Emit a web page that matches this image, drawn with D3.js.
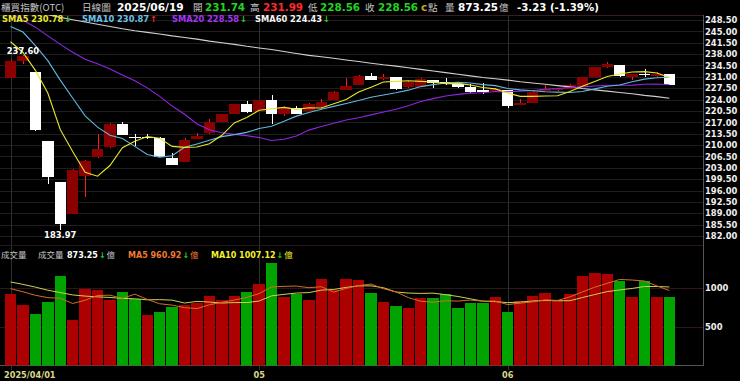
<!DOCTYPE html>
<html>
<head>
<meta charset="utf-8">
<script src="https://cdn.jsdelivr.net/npm/d3@7/dist/d3.min.js"></script>
<style>
  html, body { margin: 0; padding: 0; background: #000; overflow: hidden; }
  svg { display: block; }
  .num { font-family: "DejaVu Sans", Verdana, sans-serif; font-weight: bold; }
  .cjk { font-family: "Noto Sans CJK TC", "Noto Sans CJK SC", sans-serif; }
</style>
</head>
<body>
<div id="stage"></div>
<script>
// ---------- data (OTC index, daily) ----------
var dates = [
  "2025/04/01","2025/04/02","2025/04/07","2025/04/08","2025/04/09","2025/04/10","2025/04/11",
  "2025/04/14","2025/04/15","2025/04/16","2025/04/17","2025/04/18","2025/04/21","2025/04/22",
  "2025/04/23","2025/04/24","2025/04/25","2025/04/28","2025/04/29","2025/04/30",
  "2025/05/02","2025/05/05","2025/05/06","2025/05/07","2025/05/08","2025/05/09","2025/05/12",
  "2025/05/13","2025/05/14","2025/05/15","2025/05/16","2025/05/19","2025/05/20","2025/05/21",
  "2025/05/22","2025/05/23","2025/05/26","2025/05/27","2025/05/28","2025/05/29",
  "2025/06/02","2025/06/03","2025/06/04","2025/06/05","2025/06/06","2025/06/09","2025/06/10",
  "2025/06/11","2025/06/12","2025/06/13","2025/06/16","2025/06/17","2025/06/18","2025/06/19"
];
var opens = [230.7,236.0,232.4,211.2,198.5,188.8,200.6,206.2,209.3,216.4,212.6,212.5,212.3,206.0,
  204.9,211.9,213.6,217.2,219.6,222.5,220.5,223.9,219.5,221.5,220.5,221.6,223.9,226.9,228.5,231.4,
  230.2,231.0,228.0,228.0,230.0,229.3,228.9,227.9,226.9,226.6,226.9,222.3,223.0,226.7,226.8,227.4,
  228.0,231.0,233.9,234.6,231.0,231.75,231.3,231.74];
var highs = [236.1,237.6,232.5,211.3,198.7,202.6,205.3,213.4,216.7,217.0,213.3,213.3,212.4,207.6,
  212.1,213.8,218.1,219.7,222.7,223.6,224.0,225.4,221.9,222.1,222.8,224.1,226.7,230.7,231.5,232.1,
  231.8,231.1,229.8,230.5,230.1,230.5,229.0,228.7,229.0,227.6,227.0,224.1,226.5,228.5,227.6,228.8,
  231.0,234.0,235.6,234.7,231.8,233.5,232.4,231.99];
var lows = [230.5,234.9,214.2,198.0,183.97,188.7,193.9,206.1,209.2,213.0,209.7,211.8,206.3,203.9,
  204.8,211.8,213.5,217.1,219.5,220.0,220.4,216.4,219.0,219.5,220.4,220.8,223.8,226.8,228.4,229.9,
  230.1,227.1,227.7,227.9,227.7,228.5,227.7,226.1,225.6,226.4,221.3,222.2,222.9,226.6,226.5,227.3,
  227.9,230.9,233.8,231.1,230.0,230.9,231.0,228.56];
var closes = [235.9,237.4,214.5,200.3,185.7,202.3,205.2,208.7,216.5,213.1,212.3,212.5,206.4,204.0,
  211.6,212.8,217.2,219.6,222.6,220.1,223.9,219.7,221.8,219.6,222.6,223.3,226.2,228.2,231.4,230.0,
  231.0,227.2,229.3,230.3,229.0,228.8,227.8,226.4,226.3,227.3,222.0,222.8,226.4,227.3,227.5,228.4,
  230.9,233.9,234.9,231.2,231.75,231.7,231.79,228.56];
// volume, 億
var volumes = [913,776,656,818,1147,579,981,964,836,938,857,644,682,750,776,797,887,840,895,942,
  1049,1310,878,913,836,1113,968,1109,1096,933,814,767,741,865,869,913,741,805,797,874,
  690,831,887,926,835,922,1145,1192,1172,1085,884,1082,880,873.25];

// moving averages as drawn on the chart
var sma5 = [241.8,238.5,233.0,226.0,214.8,208.0,201.6,200.4,203.7,209.2,211.2,212.6,212.1,209.6,
  209.3,209.4,210.4,213.0,216.8,218.5,220.7,221.2,221.6,221.0,221.5,221.4,222.7,224.0,226.3,227.8,
  229.4,229.6,229.8,229.6,229.4,228.9,229.0,228.5,227.7,227.3,226.0,225.0,225.0,225.1,225.2,226.5,
  228.1,229.6,231.1,231.9,232.5,232.6,232.2,230.78];
var sma10 = [246.5,244.8,240.6,236.0,230.0,224.5,219.0,215.5,213.0,212.0,209.6,207.1,206.3,206.7,
  209.3,210.3,211.5,212.6,213.2,213.9,215.1,215.8,217.3,218.9,220.0,221.0,221.9,222.8,223.7,224.7,
  225.4,226.1,226.9,228.0,228.6,229.1,229.3,229.1,228.6,228.3,227.4,227.0,226.7,226.4,226.3,226.2,
  226.5,227.3,228.1,228.5,229.5,230.3,230.7,230.87];
var sma20 = [250.5,248.4,246.3,243.6,241.0,238.6,236.4,235.0,233.4,231.6,229.8,227.6,225.0,222.0,
  219.5,216.5,214.7,213.8,213.3,212.9,212.3,211.4,211.8,212.8,214.6,215.7,216.7,217.7,218.4,219.3,
  220.2,221.0,222.1,223.4,224.3,225.1,225.6,226.0,226.1,226.5,226.4,226.6,226.8,227.2,227.4,227.7,
  227.9,228.2,228.4,228.4,228.45,228.7,228.8,228.58];
var sma60 = [252.5,251.7,250.9,250.1,249.3,248.6,247.9,247.2,246.5,245.8,245.2,244.7,244.2,243.6,
  243.1,242.6,242.0,241.5,241.0,240.4,239.9,239.4,238.8,238.2,237.6,237.2,236.7,236.2,235.7,235.2,
  234.7,234.3,233.8,233.3,232.8,232.3,231.8,231.3,230.8,230.4,230.0,229.5,229.1,228.7,228.3,227.9,
  227.4,227.0,226.6,226.2,225.8,225.3,224.9,224.43];
var volMa5 = [985,945,900,870,862,795.2,836.2,897.8,901.4,859.6,915.2,847.8,791.4,774.2,741.8,729.8,
  778.4,810,839,872.2,922.6,1007.2,1014.8,1018.4,997.2,1010,941.6,987.8,1024.4,1043.8,984,943.8,
  870.2,824,811.2,831,825.8,838.6,825,826,781.4,799.4,815.8,841.6,833.8,880.2,943,1004,1053.2,
  1103.2,1095.6,1083,1020.6,960.92];
var volMa10 = [1071,1040,1005,965,935,905,890,880,872,860.8,855.2,842,844.6,837.8,800.7,822.5,813.1,
  800.7,806.6,807,826.2,892.8,912.4,928.7,934.7,966.3,974.4,1001.3,1021.4,1020.5,997,942.7,929,
  924.2,927.5,907.5,884.8,854.4,824.5,818.6,806.2,812.6,827.2,833.3,829.9,830.8,871.2,909.9,947.4,
  968.5,987.9,1013,1012.3,1007.12];

// axis ticks
var priceTicks = [248.5,245,241.5,238,234.5,231,227.5,224,220.5,217,213.5,210,206.5,203,199.5,196,192.5,189,185.5,182];
var volTicks = [500, 1000];
var monthTicks = ["2025/04/01","2025/05/02","2025/06/02"];
var monthLabels = ["2025/04/01","05","06"];

// ---------- layout ----------
var W = 740, H = 381;
var plotRight = 703;
var priceTop = 15, priceBottom = 245;
var volTop = 248, volBottom = 365.5;

var upBody = "#8b0000", upWick = "#ff1a1a", downColor = "#ffffff";
var volUp = "#ad0000", volDown = "#00a300";
var green = "#22d422", red = "#ff2a2a";

var svg = d3.select("#stage").append("svg")
  .attr("width", W).attr("height", H)
  .style("background", "#000");

var xScale = d3.scaleBand().domain(dates).range([3.8, 676.1]).padding(0.08);
var bw = xScale.bandwidth();
function cx(d) { return xScale(d) + bw / 2; }

var yScale = d3.scaleLinear().domain([182, 248.5]).range([236, 20]);
var vScale = d3.scaleLinear().domain([0, 1000]).range([volBottom, 287.5]);

var defs = svg.append("defs");
defs.append("clipPath").attr("id", "clipPrice").append("rect")
  .attr("x", 0).attr("y", priceTop).attr("width", plotRight).attr("height", priceBottom - priceTop);
defs.append("clipPath").attr("id", "clipVol").append("rect")
  .attr("x", 0).attr("y", volTop).attr("width", plotRight).attr("height", volBottom - volTop);

//************************************************************
// grid + frame
//************************************************************
var grid = svg.append("g").attr("shape-rendering", "crispEdges");

grid.selectAll(".hgrid").data(priceTicks).enter().append("line")
  .attr("x1", 0).attr("x2", plotRight)
  .attr("y1", function(d){ return Math.round(yScale(d)) + 0.5; })
  .attr("y2", function(d){ return Math.round(yScale(d)) + 0.5; })
  .attr("stroke", "#1e1e1e");

grid.selectAll(".vgridv").data(volTicks).enter().append("line")
  .attr("x1", 0).attr("x2", plotRight)
  .attr("y1", function(d){ return Math.round(vScale(d)) + 0.5; })
  .attr("y2", function(d){ return Math.round(vScale(d)) + 0.5; })
  .attr("stroke", "#2c1818");

grid.selectAll(".mgrid").data(monthTicks).enter().append("line")
  .attr("x1", function(d){ return Math.round(cx(d)) + 0.5; })
  .attr("x2", function(d){ return Math.round(cx(d)) + 0.5; })
  .attr("y1", priceTop).attr("y2", 370)
  .attr("stroke", "#2e2e2e");

grid.append("line").attr("x1", 0).attr("x2", plotRight).attr("y1", priceTop + 0.5).attr("y2", priceTop + 0.5).attr("stroke", "#3a1c1c");
grid.append("line").attr("x1", 0).attr("x2", plotRight).attr("y1", priceBottom + 0.5).attr("y2", priceBottom + 0.5).attr("stroke", "#2a1616");
grid.append("line").attr("x1", plotRight + 0.5).attr("x2", plotRight + 0.5).attr("y1", priceTop).attr("y2", volBottom).attr("stroke", "#555");
grid.append("line").attr("x1", 0).attr("x2", plotRight + 1).attr("y1", volBottom).attr("y2", volBottom).attr("stroke", "#555");

//************************************************************
// candles
//************************************************************
var candles = svg.append("g").attr("clip-path", "url(#clipPrice)").attr("shape-rendering", "crispEdges");

var cdata = dates.map(function(d, i){
  return { date: d, o: opens[i], h: highs[i], l: lows[i], c: closes[i] };
});

candles.selectAll(".wick").data(cdata).enter().append("rect")
  .attr("x", function(d){ return Math.round(cx(d.date)) - 0.5; })
  .attr("width", 1)
  .attr("y", function(d){ return yScale(d.h); })
  .attr("height", function(d){ return Math.max(1, yScale(d.l) - yScale(d.h)); })
  .attr("fill", function(d){ return d.c > d.o ? upWick : downColor; });

candles.selectAll(".body").data(cdata).enter().append("rect")
  .attr("x", function(d){ return xScale(d.date); })
  .attr("width", bw)
  .attr("y", function(d){ return yScale(Math.max(d.o, d.c)); })
  .attr("height", function(d){ return Math.max(1, Math.abs(yScale(d.o) - yScale(d.c))); })
  .attr("fill", function(d){ return d.c > d.o ? upBody : downColor; });

// moving average lines
var maLine = d3.line()
  .x(function(d, i){ return cx(dates[i]); })
  .y(function(d){ return yScale(d); });

var maSeries = [
  { vals: sma60, color: "#d0d0d0" },
  { vals: sma20, color: "#9026e0" },
  { vals: sma10, color: "#62b8de" },
  { vals: sma5,  color: "#e6e62a" }
];
svg.append("g").attr("clip-path", "url(#clipPrice)")
  .selectAll("path").data(maSeries).enter().append("path")
  .attr("d", function(s){ return maLine(s.vals); })
  .attr("fill", "none")
  .attr("stroke", function(s){ return s.color; })
  .attr("stroke-width", 1.1);

// hi / lo markers
var iHi = d3.maxIndex(highs), iLo = d3.minIndex(lows);
svg.append("text").attr("class", "num")
  .attr("x", cx(dates[iHi])).attr("y", yScale(highs[iHi]) - 1.5)
  .attr("text-anchor", "middle").attr("font-size", 8.4).attr("fill", "#fff")
  .text(highs[iHi].toFixed(2));
svg.append("text").attr("class", "num")
  .attr("x", cx(dates[iLo])).attr("y", yScale(lows[iLo]) + 8)
  .attr("text-anchor", "middle").attr("font-size", 8.4).attr("fill", "#fff")
  .text(lows[iLo].toFixed(2));

//************************************************************
// volume
//************************************************************
var vols = svg.append("g").attr("clip-path", "url(#clipVol)").attr("shape-rendering", "crispEdges");
vols.selectAll("rect").data(volumes).enter().append("rect")
  .attr("x", function(d, i){ return xScale(dates[i]); })
  .attr("width", bw)
  .attr("y", function(d){ return vScale(d); })
  .attr("height", function(d){ return volBottom - vScale(d); })
  .attr("fill", function(d, i){
    var up = i === 0 ? closes[i] > opens[i] : closes[i] >= closes[i - 1];
    return up ? volUp : volDown;
  });

var volLine = d3.line()
  .x(function(d, i){ return cx(dates[i]); })
  .y(function(d){ return vScale(d); });
svg.append("g").attr("clip-path", "url(#clipVol)")
  .selectAll("path").data([{ vals: volMa10, color: "#cfcf55" }, { vals: volMa5, color: "#d07028" }])
  .enter().append("path")
  .attr("d", function(s){ return volLine(s.vals); })
  .attr("fill", "none")
  .attr("stroke", function(s){ return s.color; })
  .attr("stroke-width", 1);

//************************************************************
// axes
//************************************************************
var yAxis = d3.axisRight(yScale).tickValues(priceTicks).tickFormat(d3.format(".2f")).tickSize(0).tickPadding(2);
var gY = svg.append("g").attr("transform", "translate(" + plotRight + ",0)").call(yAxis);

var vAxis = d3.axisRight(vScale).tickValues(volTicks).tickFormat(d3.format("d")).tickSize(0).tickPadding(2);
var gV = svg.append("g").attr("transform", "translate(" + plotRight + ",0)").call(vAxis);

[gY, gV].forEach(function(g){
  g.select(".domain").remove();
  g.selectAll("text").attr("class", "num").attr("font-size", 8.4).attr("fill", "#f0f0f0");
});

var xAxis = d3.axisBottom(xScale).tickValues(monthTicks)
  .tickFormat(function(d, i){ return monthLabels[i]; })
  .tickSize(0).tickPadding(7);
var gX = svg.append("g").attr("transform", "translate(0," + volBottom + ")").call(xAxis);
gX.select(".domain").remove();
gX.selectAll("text").attr("class", "num").attr("font-size", 8.2).attr("fill", "#d8d88c");
gX.selectAll("text").filter(function(d, i){ return i === 0; })
  .attr("text-anchor", "start").attr("x", 4 - cx(monthTicks[0]));

//************************************************************
// header texts
//************************************************************
function put(x, y, str, color, cls, size) {
  return svg.append("text").attr("class", cls).attr("x", x).attr("y", y)
    .attr("font-size", size).attr("fill", color).text(str);
}
// arrow right after a text; returns the x where the arrow ends
function arrowAfter(t, y, now, prev, size) {
  var x = +t.attr("x") + t.node().getComputedTextLength() + 1;
  var down = now < prev;
  var a = put(x, y, down ? "↓" : "↑", down ? green : red, "num", size);
  return x + a.node().getComputedTextLength();
}

var n = dates.length - 1;
var chg = closes[n] - closes[n - 1];
var pct = chg / closes[n - 1] * 100;

var y1 = 11, gray = "#c4c4c4";
put(1, y1, "櫃買指數(OTC)", gray, "cjk", 9.6);
put(82, y1, "日線圖", gray, "cjk", 9.6);
put(117, y1, dates[n], "#fff", "num", 10.6);
put(193, y1, "開", gray, "cjk", 9.6);
put(205, y1, opens[n].toFixed(2), green, "num", 10.4);
put(250, y1, "高", gray, "cjk", 9.6);
put(263, y1, highs[n].toFixed(2), red, "num", 10.4);
put(308, y1, "低", gray, "cjk", 9.6);
put(320, y1, lows[n].toFixed(2), green, "num", 10.4);
put(365, y1, "收", gray, "cjk", 9.6);
put(378, y1, closes[n].toFixed(2), green, "num", 10.4);
put(421, y1, "c", "#c8a22a", "num", 10.4);
put(428, y1, "點", gray, "cjk", 9.6);
put(445, y1, "量", gray, "cjk", 9.6);
put(458, y1, volumes[n].toFixed(2), "#fff", "num", 10.4);
put(499, y1, "億", gray, "cjk", 9.6);
put(517, y1, chg.toFixed(2) + " (" + pct.toFixed(2) + "%)", "#fff", "num", 10.2);

var y2 = 21.5, s2 = 8.3;
var maLabels = [
  { x: 2,   name: "SMA5",  vals: sma5,  color: "#e6e62a" },
  { x: 82,  name: "SMA10", vals: sma10, color: "#6cc0e8" },
  { x: 172, name: "SMA20", vals: sma20, color: "#a335f5" },
  { x: 255, name: "SMA60", vals: sma60, color: "#f4f4f4" }
];
maLabels.forEach(function(m){
  var t = put(m.x, y2, m.name + " " + m.vals[n].toFixed(2), m.color, "num", s2);
  arrowAfter(t, y2, m.vals[n], m.vals[n - 1], s2);
});

var y3 = 257.5, s3 = 8;
put(1, y3, "成交量", gray, "cjk", 8.5);
put(38, y3, "成交量", gray, "cjk", 8.5);
var tv = put(67, y3, volumes[n].toFixed(2), "#fff", "num", s3);
put(arrowAfter(tv, y3, volumes[n], volumes[n - 1], s3) + 1, y3, "億", gray, "cjk", 8.5);
var t5 = put(128, y3, "MA5 " + volMa5[n].toFixed(2), "#f07a30", "num", s3);
put(arrowAfter(t5, y3, volMa5[n], volMa5[n - 1], s3) + 1, y3, "億", "#f07a30", "cjk", 8.5);
var t10 = put(211, y3, "MA10 " + volMa10[n].toFixed(2), "#f2f22a", "num", s3);
put(arrowAfter(t10, y3, volMa10[n], volMa10[n - 1], s3) + 1, y3, "億", "#f2f22a", "cjk", 8.5);
</script>
</body>
</html>
